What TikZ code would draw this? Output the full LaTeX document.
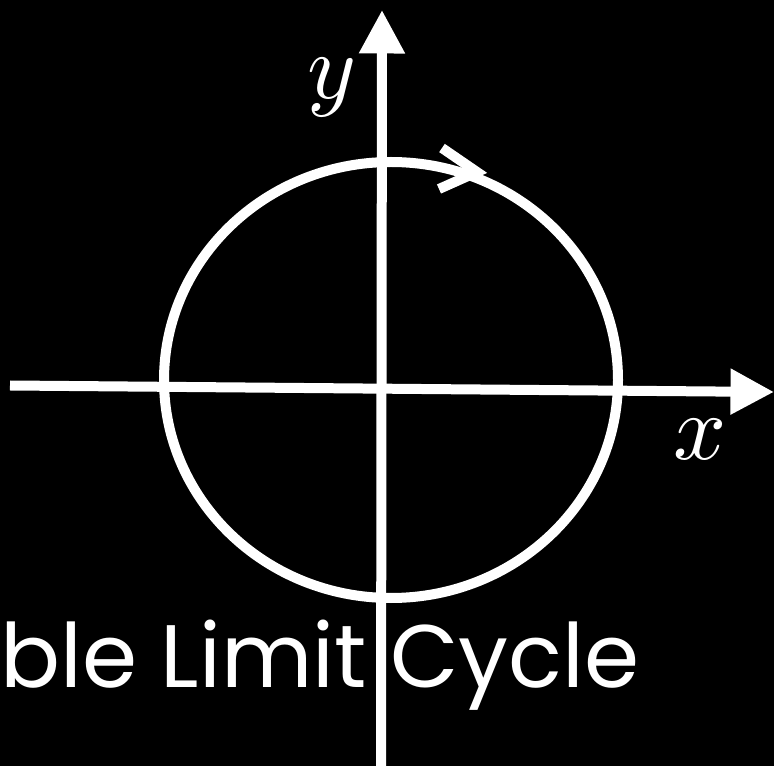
\documentclass[tikz,border=0pt]{standalone}
\usepackage{fontspec}
\newfontfamily\captionfont{Poppins}
\usetikzlibrary{arrows.meta}

\begin{document}
\begin{tikzpicture}[x=0.02cm,y=-0.02cm]
\tikzstyle{ax}=[white,line width=0.2cm,-{Triangle[length=0.87cm,width=0.87cm]}]
\tikzstyle{cyc}=[white,line width=0.2cm]
\tikzstyle{lbl}=[white,inner sep=0pt]
\useasboundingbox (0,0) rectangle (774,766);
\fill[black] (0,0) rectangle (774,766);
% axes
\coordinate (ybot) at (381,766); \coordinate (ytop) at (382,10);
\coordinate (xlft) at (10,385.5); \coordinate (xrgt) at (774,392);
\draw[ax] (ybot) -- (ytop);
\draw[ax] (xlft) -- (xrgt);
\node[lbl] (ylab) at (332,88) {\scalebox{5.3}{$y$}};
\node[lbl] (xlab) at (700,439) {\scalebox{5.3}{$x$}};
% limit cycle and its direction
\draw[cyc] (391,380) ellipse [x radius=227,y radius=218];
\coordinate (tip) at (477,172);
\draw[cyc] (442,148) -- (tip) -- (439,189);
\node[white,inner sep=0pt,anchor=base west,font=\captionfont\fontsize{50.5}{60}\selectfont] (cap) at (0,687) {ble Limit Cycle};
\end{tikzpicture}
\end{document}
